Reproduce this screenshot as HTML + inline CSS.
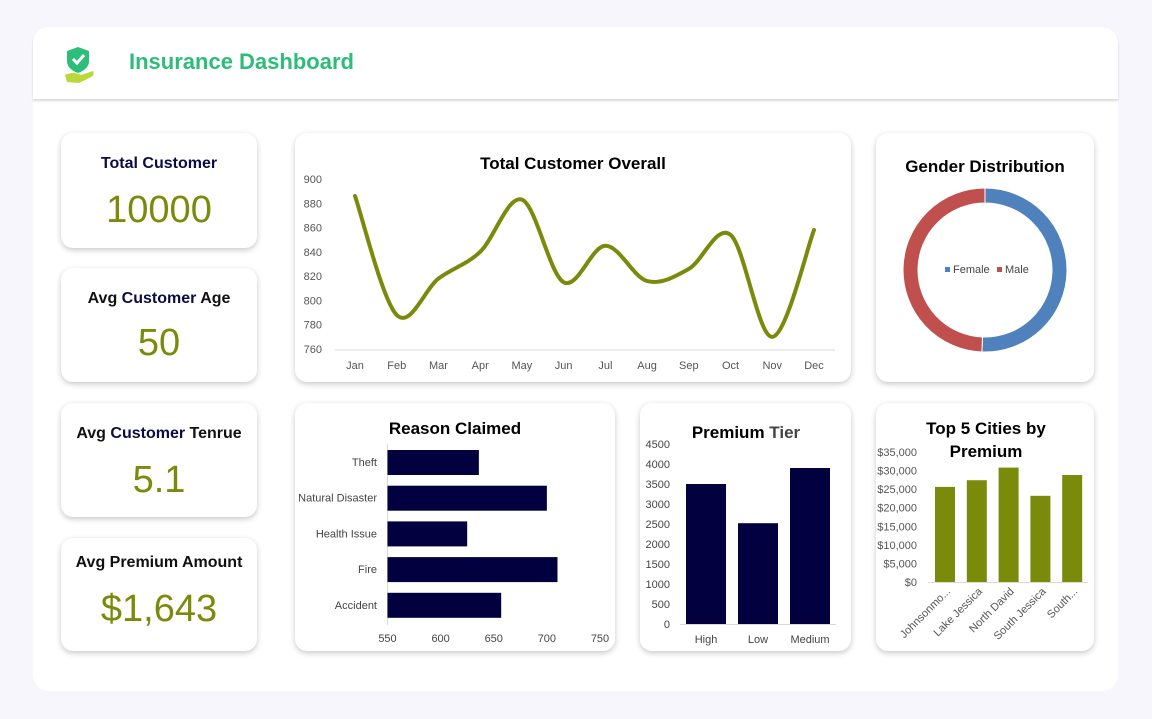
<!DOCTYPE html>
<html><head><meta charset="utf-8"><style>
body{margin:0;width:1152px;height:719px;background:#f6f6fc;font-family:"Liberation Sans",sans-serif;position:relative;overflow:hidden}
.panel{position:absolute;left:33px;top:27px;width:1085px;height:664px;background:#fff;border-radius:16px}
.header{position:absolute;left:33px;top:27px;width:1085px;height:72px;background:#fff;border-radius:16px 16px 0 0;box-shadow:0 2px 2px rgba(0,0,0,0.15)}
.card{position:absolute;background:#fff;border-radius:12px;box-shadow:0 2px 6px rgba(0,0,0,0.22)}
.kt{position:absolute;left:0;right:0;text-align:center;font-weight:bold;font-size:16px;color:#111}
.kv{position:absolute;left:0;right:0;text-align:center;font-size:38px;color:#7a8a0b}
svg text{font-family:"Liberation Sans",sans-serif}
</style></head><body>
<div class="panel"></div>
<div class="header">
<svg style="position:absolute;left:30px;top:18px" width="36" height="40" viewBox="0 0 36 40">
<path d="M15 2 L26 6 L26 16 Q26 24 15 28 Q4 24 4 16 L4 6 Z" fill="#2dbd7a"/>
<path d="M10 14 L14 18 L21 10" stroke="#fff" stroke-width="3" fill="none"/>
<path d="M2 30 Q10 26 18 30 L30 26 Q32 30 28 32 L16 38 L4 37 Z" fill="#b9d93a"/>
</svg>
<div style="position:absolute;left:96px;top:22px;font-size:22px;font-weight:bold;color:#2dbd7a">Insurance Dashboard</div>
</div>

<div class="card" style="left:61px;top:133px;width:196px;height:115px"><div class="kt" style="top:22px;color:#0b0b45">Total Customer</div><div class="kv" style="top:56px">10000</div></div>
<div class="card" style="left:61px;top:268px;width:196px;height:114px"><div class="kt" style="top:22px">Avg <span style="color:#0b0b45">Customer</span> Age</div><div class="kv" style="top:54px">50</div></div>
<div class="card" style="left:61px;top:403px;width:196px;height:114px"><div class="kt" style="top:22px">Avg <span style="color:#0b0b45">Customer</span> Tenrue</div><div class="kv" style="top:56px">5.1</div></div>
<div class="card" style="left:61px;top:538px;width:196px;height:113px"><div class="kt" style="top:16px">Avg Premium Amount</div><div class="kv" style="top:50px">$1,643</div></div>

<div class="card" style="left:295px;top:133px;width:556px;height:249px"></div>
<div class="card" style="left:876px;top:133px;width:218px;height:249px"></div>
<div class="card" style="left:295px;top:403px;width:320px;height:248px"></div>
<div class="card" style="left:640px;top:403px;width:211px;height:248px"></div>
<div class="card" style="left:876px;top:403px;width:218px;height:248px"></div>

<svg id="s" width="1152" height="719" style="position:absolute;left:0;top:0"></svg>
<script>
const months=["Jan","Feb","Mar","Apr","May","Jun","Jul","Aug","Sep","Oct","Nov","Dec"];
const customers=[886,788,818,840,883,815,845,816,826,854,770,858];
const lineTicks=[760,780,800,820,840,860,880,900];
const genderLabels=["Female","Male"];
const genderValues=[50.6,49.4];
const reasons=["Theft","Natural Disaster","Health Issue","Fire","Accident"];
const reasonValues=[636,700,625,710,657];
const reasonTicks=[550,600,650,700,750];
const tiers=["High","Low","Medium"];
const tierValues=[3500,2520,3900];
const tierTicks=[0,500,1000,1500,2000,2500,3000,3500,4000,4500];
const cities=["Johnsonmo...","Lake Jessica","North David","South Jessica","South..."];
const cityValues=[25600,27400,30800,23200,28800];
const cityTicks=[0,5000,10000,15000,20000,25000,30000,35000];

const s=document.getElementById('s');const NS="http://www.w3.org/2000/svg";
function el(t,a,txt){const e=document.createElementNS(NS,t);for(const k in a)e.setAttribute(k,a[k]);if(txt!==undefined)e.textContent=txt;s.appendChild(e);return e;}
function title(x,y,t,n){const e=el('text',{x:x,y:y,'text-anchor':'middle','font-size':17,'font-weight':'bold',fill:'#000'},t);

return e;}

// line chart
title(573,169,"Total Customer Overall","line-chart-title");
const lx=i=>355+i*(814-355)/11, ly=v=>349-(v-760)*(170/140);
lineTicks.forEach(t=>{const e=el('text',{x:322,y:ly(t)+4,'text-anchor':'end','font-size':11,fill:'#555'},t);

});
const ax=el('line',{x1:335,x2:835,y1:350,y2:350,stroke:'#d9d9d9'});


months.forEach((m,i)=>{const e=el('text',{x:lx(i),y:369,'text-anchor':'middle','font-size':11,fill:'#555'},m);

});
const pts=customers.map((v,i)=>[lx(i),ly(v)]);
let d=`M${pts[0][0]},${pts[0][1]}`;
for(let i=0;i<pts.length-1;i++){const p0=pts[Math.max(0,i-1)],p1=pts[i],p2=pts[i+1],p3=pts[Math.min(pts.length-1,i+2)];
const c1=[p1[0]+(p2[0]-p0[0])/6,p1[1]+(p2[1]-p0[1])/6],c2=[p2[0]-(p3[0]-p1[0])/6,p2[1]-(p3[1]-p1[1])/6];
d+=` C${c1[0]},${c1[1]} ${c2[0]},${c2[1]} ${p2[0]},${p2[1]}`;}
const ln=el('path',{d:d,fill:'none',stroke:'#7a8a0b','stroke-width':4,'stroke-linecap':'round'});



// donut
title(985,172,"Gender Distribution","gender-title");
const cx=985,cy=270,R=82,r=67,cols=['#4f81bd','#c0504d'];
let tot=genderValues.reduce((a,b)=>a+b,0),ang=-Math.PI/2;
genderValues.forEach((v,i)=>{const a2=ang+v/tot*2*Math.PI,lg=(a2-ang)>Math.PI?1:0;
const P=(rr,a)=>[cx+rr*Math.cos(a),cy+rr*Math.sin(a)];
const [x1,y1]=P(R,ang),[x2,y2]=P(R,a2),[x3,y3]=P(r,a2),[x4,y4]=P(r,ang);
const e=el('path',{d:`M${x1},${y1} A${R},${R} 0 ${lg} 1 ${x2},${y2} L${x3},${y3} A${r},${r} 0 ${lg} 0 ${x4},${y4} Z`,fill:cols[i],stroke:'#fff','stroke-width':1});

ang=a2;});
genderLabels.forEach((g,i)=>{const bx=i==0?945:997;
const q=el('rect',{x:bx,y:267,width:5,height:5,fill:cols[i]});


const t=el('text',{x:bx+8,y:273,'font-size':11,fill:'#444'},g);

});

// reason bars
title(455,434,"Reason Claimed","reason-title");
const rx=v=>387.5+(v-550)*(212.5/200);
const ya=el('line',{x1:387.5,x2:387.5,y1:444,y2:625,stroke:'#d9d9d9'});


reasons.forEach((c,i)=>{const y=450+i*35.7;
const b=el('rect',{x:rx(550),y:y,width:rx(reasonValues[i])-rx(550),height:25,fill:'#03003f'});


const t=el('text',{x:377,y:y+16,'text-anchor':'end','font-size':11,fill:'#444'},c);

});
reasonTicks.forEach(t=>{const e=el('text',{x:rx(t),y:642,'text-anchor':'middle','font-size':11,fill:'#444'},t);

});

// premium tier
const pt=el('text',{x:746,y:438,'text-anchor':'middle','font-size':17,'font-weight':'bold',fill:'#000'});
pt.innerHTML='Premium <tspan fill="#444">Tier</tspan>';


const ty=v=>624-v*(180/4500);
tierTicks.forEach(t=>{const e=el('text',{x:670,y:ty(t)+4,'text-anchor':'end','font-size':11,fill:'#444'},t);

});
const tx=el('line',{x1:680,x2:836,y1:624.5,y2:624.5,stroke:'#d9d9d9'});


tiers.forEach((c,i)=>{const x=686+i*52;
const b=el('rect',{x:x,y:ty(tierValues[i]),width:40,height:ty(0)-ty(tierValues[i]),fill:'#03003f'});


const t=el('text',{x:x+20,y:643,'text-anchor':'middle','font-size':11,fill:'#444'},c);

});

// cities
title(986,434,"Top 5 Cities by","cities-title");
title(986,457,"Premium","cities-title-2");
const cyv=v=>582-v*(130/35000);
cityTicks.forEach(t=>{const e=el('text',{x:917,y:cyv(t)+4,'text-anchor':'end','font-size':11,fill:'#555'},'$'+t.toLocaleString('en-US'));

});
const cxl=el('line',{x1:928,x2:1088,y1:582.5,y2:582.5,stroke:'#d9d9d9'});


cities.forEach((c,i)=>{const x=935+i*31.8;
const b=el('rect',{x:x,y:cyv(cityValues[i]),width:20,height:582-cyv(cityValues[i]),fill:'#7a8a0b'});


const t=el('text',{x:x+16,y:592,'text-anchor':'end','font-size':11,fill:'#555',transform:`rotate(-45 ${x+16} 592)`},c);

});
</script>
</body></html>
